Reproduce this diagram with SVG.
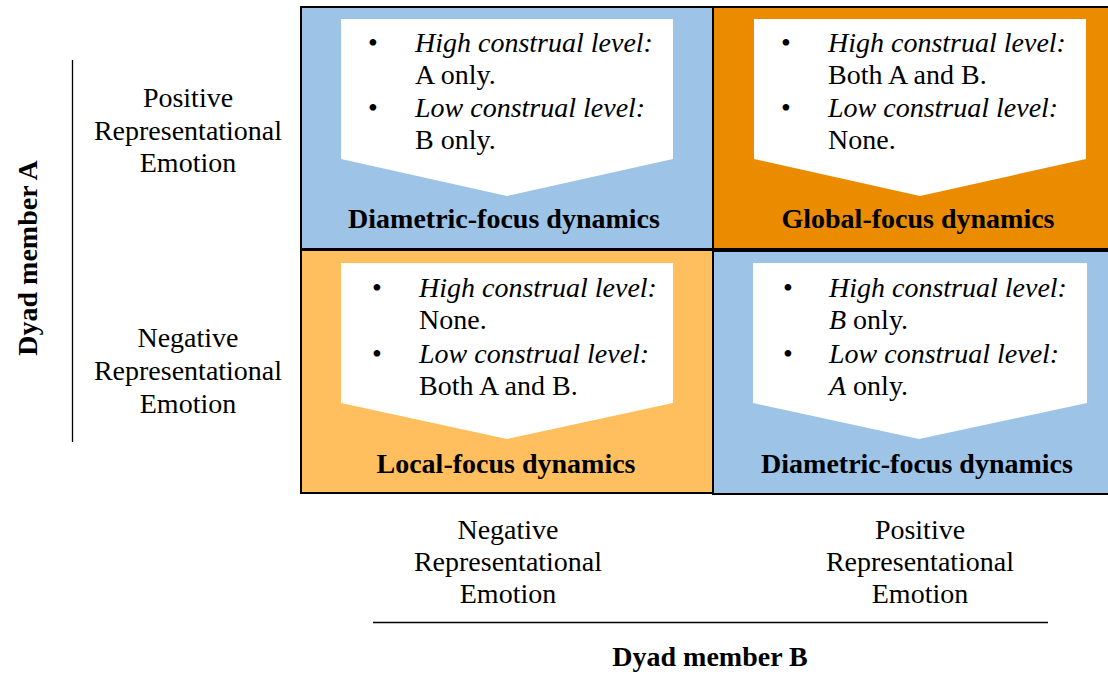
<svg xmlns="http://www.w3.org/2000/svg" width="1108" height="674" viewBox="0 0 1108 674">
<style>
text{font-family:"Liberation Serif","Times New Roman",serif;font-size:28px;fill:#000}
.it{font-style:italic}
.b{font-weight:bold}
.c{text-anchor:middle}
.cell{stroke:#000;stroke-width:2}
.arrow{fill:#fff}
.axis{stroke:#000;stroke-width:1.3;fill:none}
</style>
<rect width="1108" height="674" fill="#fff"/>

<g id="cell-tl">
<rect class="cell" x="301" y="7" width="412" height="242" fill="#9DC3E6"/>
<polygon class="arrow" points="341,19 673,19 673,159 507,196 341,159"/>
<text class="c" x="373" y="52">•</text>
<text class="it" x="415" y="52">High construal level:</text>
<text x="415" y="84">A only.</text>
<text class="c" x="373" y="117">•</text>
<text class="it" x="415" y="117">Low construal level:</text>
<text x="415" y="149">B only.</text>
<text class="b c" x="504" y="228">Diametric-focus dynamics</text>
</g>

<g id="cell-tr">
<rect class="cell" x="713" y="7" width="400" height="242" fill="#EA8B00"/>
<polygon class="arrow" points="754,19 1086,19 1086,159 920,196 754,159"/>
<text class="c" x="786" y="52">•</text>
<text class="it" x="828" y="52">High construal level:</text>
<text x="828" y="84">Both A and B.</text>
<text class="c" x="786" y="117">•</text>
<text class="it" x="828" y="117">Low construal level:</text>
<text x="828" y="149">None.</text>
<text class="b c" x="918" y="228">Global-focus dynamics</text>
</g>

<g id="cell-bl">
<rect class="cell" x="301" y="250" width="412" height="243" fill="#FFBF5E"/>
<polygon class="arrow" points="341,263 673,263 673,403 507,439 341,403"/>
<text class="c" x="377" y="297">•</text>
<text class="it" x="419" y="297">High construal level:</text>
<text x="419" y="329">None.</text>
<text class="c" x="377" y="363">•</text>
<text class="it" x="419" y="363">Low construal level:</text>
<text x="419" y="395">Both A and B.</text>
<text class="b c" x="506" y="473">Local-focus dynamics</text>
</g>

<g id="cell-br">
<rect class="cell" x="713" y="251" width="400" height="243" fill="#9DC3E6"/>
<polygon class="arrow" points="753,263 1087,263 1087,403 919,439 753,403"/>
<text class="c" x="788" y="297">•</text>
<text class="it" x="829" y="297">High construal level:</text>
<text x="829" y="329"><tspan class="it">B</tspan> only.</text>
<text class="c" x="788" y="363">•</text>
<text class="it" x="829" y="363">Low construal level:</text>
<text x="829" y="395"><tspan class="it">A</tspan> only.</text>
<text class="b c" x="917" y="473">Diametric-focus dynamics</text>
</g>

<g id="row-labels">
<text class="c" x="188" y="107">Positive</text>
<text class="c" x="188" y="140">Representational</text>
<text class="c" x="188" y="172">Emotion</text>
<text class="c" x="188" y="347">Negative</text>
<text class="c" x="188" y="380">Representational</text>
<text class="c" x="188" y="413">Emotion</text>
</g>

<g id="col-labels">
<text class="c" x="508" y="539">Negative</text>
<text class="c" x="508" y="571">Representational</text>
<text class="c" x="508" y="603">Emotion</text>
<text class="c" x="920" y="539">Positive</text>
<text class="c" x="920" y="571">Representational</text>
<text class="c" x="920" y="603">Emotion</text>
</g>

<g id="axes">
<line class="axis" x1="72.5" y1="60" x2="72.5" y2="442"/>
<line class="axis" x1="373" y1="622.5" x2="1048" y2="622.5"/>
<text class="b c" transform="translate(37,258) rotate(-90)">Dyad member A</text>
<text class="b c" x="710" y="666">Dyad member B</text>
</g>
</svg>
